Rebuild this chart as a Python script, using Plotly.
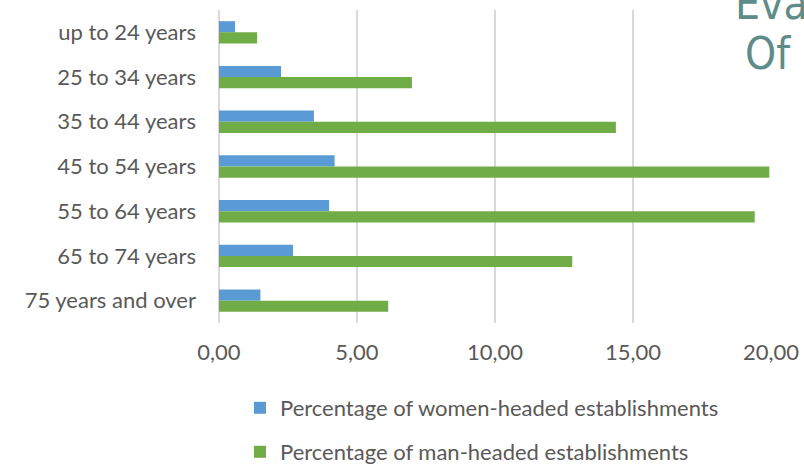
import plotly.graph_objects as go

categories = ["up to 24 years", "25 to 34 years", "35 to 44 years", "45 to 54 years",
              "55 to 64 years", "65 to 74 years", "75 years and over"]
women = [0.58, 2.25, 3.44, 4.19, 3.99, 2.68, 1.50]
men = [1.38, 6.99, 14.38, 19.94, 19.41, 12.80, 6.13]
x_ticks = [0, 5, 10, 15, 20]

TXT = "#595959"
FONT = "Lato"
FS = 22

fig = go.Figure()
fig.add_trace(go.Bar(y=categories, x=women, orientation="h",
                     name="Percentage of women-headed establishments",
                     marker=dict(color="#5b9bd5", line=dict(width=0)), legend="legend"))
fig.add_trace(go.Bar(y=categories, x=men, orientation="h",
                     name="Percentage of man-headed establishments",
                     marker=dict(color="#70ad47", line=dict(width=0)), legend="legend2"))

W, H = 804, 467
L, R, T, B = 219, 33, 10, 144
ph = H - T - B

def py(ypx):
    return (H - B - ypx) / ph

def px(xpx):
    return (xpx - L) / (W - L - R)

def cy(ypx):
    return (H - ypx) / H

def cx(xpx):
    return xpx / W

fig.update_layout(
    width=W, height=H,
    margin=dict(l=L, r=R, t=T, b=B, pad=0, autoexpand=False),
    paper_bgcolor="white", plot_bgcolor="white",
    barmode="group", bargap=0.5, bargroupgap=0,
    separators=",.",
    font=dict(family=FONT, size=FS, color=TXT),
    xaxis=dict(range=[0, 20], tickvals=x_ticks, tickformat=".2f",
               showgrid=True, gridcolor="#d9d9d9", gridwidth=2,
               zeroline=True, zerolinecolor="#d9d9d9", zerolinewidth=2,
               showline=False, ticks="", ticklabelstandoff=14,
               tickfont=dict(family=FONT, size=FS, color=TXT), fixedrange=True),
    yaxis=dict(autorange="reversed", showgrid=False, zeroline=False, showline=False,
               ticks="", ticklabelstandoff=22,
               tickfont=dict(family=FONT, size=FS, color=TXT)),
    legend=dict(x=cx(240), y=cy(408), xref="container", yref="container",
                xanchor="left", yanchor="middle",
                font=dict(family=FONT, size=FS, color=TXT), bgcolor="rgba(0,0,0,0)"),
    legend2=dict(x=cx(240), y=cy(452), xref="container", yref="container",
                 xanchor="left", yanchor="middle",
                 font=dict(family=FONT, size=FS, color=TXT), bgcolor="rgba(0,0,0,0)"),
    showlegend=True,
)

deco = "#5e8c8a"
fig.add_annotation(text="Evaluation", xref="paper", yref="paper",
                   x=px(733), y=py(3), xanchor="left", yanchor="middle",
                   showarrow=False, font=dict(family="DejaVu Sans Condensed", size=44, color=deco))
fig.add_annotation(text="Of performance", xref="paper", yref="paper",
                   x=px(743), y=py(53), xanchor="left", yanchor="middle",
                   showarrow=False, font=dict(family="DejaVu Sans Condensed", size=44, color=deco))

fig.write_html("out.html")
